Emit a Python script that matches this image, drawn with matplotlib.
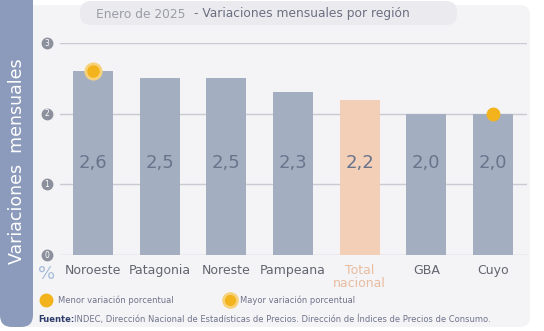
import matplotlib
matplotlib.use("Agg")
import matplotlib.pyplot as plt
from matplotlib.patches import FancyBboxPatch
from matplotlib.transforms import blended_transform_factory

categories = ["Noroeste", "Patagonia", "Noreste", "Pampeana", "Total\nnacional", "GBA", "Cuyo"]
values = [2.6, 2.5, 2.5, 2.3, 2.2, 2.0, 2.0]
labels = ["2,6", "2,5", "2,5", "2,3", "2,2", "2,0", "2,0"]
yticks = [0, 1, 2, 3]
highlight_idx = 4
max_idx = 0
min_idx = 6

BAR = "#a3afc1"
PEACH = "#f3cfb8"
ORANGE = "#f2b31d"
TXT = "#68748b"

fig = plt.figure(figsize=(5.44, 3.31), dpi=100)
fig.patch.set_facecolor("white")

# overlay axes in pixel coordinates for decorations
lax = fig.add_axes([0, 0, 1, 1], facecolor="none", zorder=-1)
lax.set_xlim(0, 544); lax.set_ylim(331, 0); lax.axis("off")

lax.add_patch(FancyBboxPatch((8, 5), 522, 322, boxstyle="round,pad=0,rounding_size=10",
                             facecolor="#f4f4f7", edgecolor="none", zorder=0))
lax.add_patch(FancyBboxPatch((0, -12), 33, 339, boxstyle="round,pad=0,rounding_size=12",
                             facecolor="#8c9abb", edgecolor="none", zorder=1))
lax.add_patch(FancyBboxPatch((80, 1), 377, 24, boxstyle="round,pad=0,rounding_size=11",
                             facecolor="#ebebef", edgecolor="none", zorder=1))
lax.text(96, 14, "Enero de 2025", color="#9a9ca6", fontsize=8.8, va="center", ha="left")
lax.text(194, 14, "- Variaciones mensuales por región", color="#6b6f80", fontsize=8.8, va="center", ha="left")
lax.text(17, 161, "Variaciones  mensuales", rotation=90, color="white", fontsize=12.5,
         ha="center", va="center")

ax = fig.add_axes([60/544, 1-255/331, (527-60)/544, (255-43)/331])
ax.set_facecolor("none")
x = list(range(len(categories)))
colors = [PEACH if i == highlight_idx else BAR for i in x]
ax.bar(x, values, width=0.6, color=colors, zorder=2)
for yv in yticks:
    ax.axhline(yv, color="#c9cbd2", lw=1, zorder=1)
ax.set_xlim(-0.495, 6.51)
ax.set_ylim(0, 3)
for s in ax.spines.values():
    s.set_visible(False)
ax.set_xticks([])
ax.set_yticks([])

for i, lab in enumerate(labels):
    ax.text(i, 1.3, lab, ha="center", va="center", fontsize=13, color=TXT, zorder=3)

tr = blended_transform_factory(ax.transAxes, ax.transData)
tx = -0.028
for yv in yticks:
    ax.plot([tx], [yv], marker="o", ms=7.5, color="#8c909c", transform=tr, clip_on=False, zorder=4)
    ax.text(tx, yv, str(yv), ha="center", va="center", fontsize=5.5, color="white",
            transform=tr, zorder=5)

# markers
ax.plot([max_idx], [values[max_idx]], marker="o", ms=12, color="#f7d27a", zorder=4, clip_on=False)
ax.plot([max_idx], [values[max_idx]], marker="o", ms=8, color=ORANGE, zorder=5, clip_on=False)
ax.plot([min_idx], [values[min_idx]], marker="o", ms=9, color=ORANGE, zorder=5, clip_on=False)

# x labels
for i, c in enumerate(categories):
    col = "#e8bc9f" if i == highlight_idx else "#62656e"
    ax.text(i, -0.13, c, ha="center", va="top", fontsize=9, color=col,
            linespacing=0.95, clip_on=False)
ax.text(tx, -0.14, "%", transform=tr, ha="center", va="top", fontsize=13, color="#a8bcd8")

# legend and source
lax.plot([46], [300], marker="o", ms=9, color=ORANGE)
lax.text(58, 300, "Menor variación porcentual", color="#70748a", fontsize=6, ha="left", va="center")
lax.plot([230], [300], marker="o", ms=11, color="#f7d27a")
lax.plot([230], [300], marker="o", ms=7, color=ORANGE)
lax.text(240, 300, "Mayor variación porcentual", color="#70748a", fontsize=6, ha="left", va="center")
lax.text(38, 319, "Fuente:", color="#2f3d6b", fontsize=6, fontweight="bold", ha="left", va="center")
lax.text(74, 319, "INDEC, Dirección Nacional de Estadísticas de Precios. Dirección de Índices de Precios de Consumo.",
         color="#70748a", fontsize=6, ha="left", va="center")

fig.savefig("out.png", dpi=100, facecolor="white")
